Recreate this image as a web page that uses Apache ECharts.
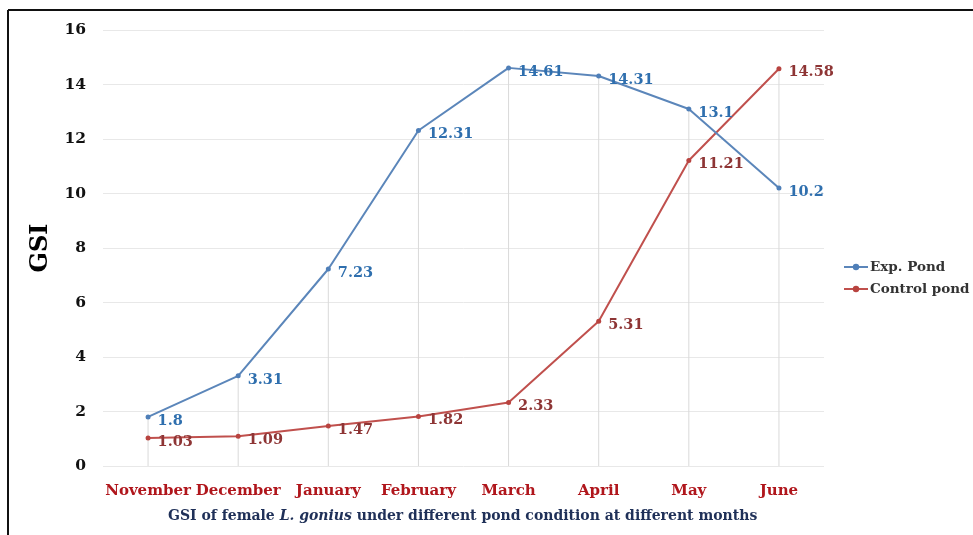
<!DOCTYPE html>
<html>
<head>
<meta charset="utf-8">
<script src="https://cdn.jsdelivr.net/npm/echarts@6/dist/echarts.min.js"></script>
<style>
html,body{margin:0;padding:0;background:#fff;}
#chart{width:973px;height:535px;}
</style>
</head>
<body>
<div id="chart"></div>
<script>
const months = ["November","December","January","February","March","April","May","June"];
const expPond = [1.8, 3.31, 7.23, 12.31, 14.61, 14.31, 13.1, 10.2];
const controlPond = [1.03, 1.09, 1.47, 1.82, 2.33, 5.31, 11.21, 14.58];
const yTicks = [0, 2, 4, 6, 8, 10, 12, 14, 16];

const dropLines = months.map((m, i) => Math.max(expPond[i], controlPond[i]));
const FONT = '"DejaVu Serif", "Liberation Serif", serif';

const chart = echarts.init(document.getElementById('chart'));
chart.setOption({
  animation: false,
  backgroundColor: '#fff',
  textStyle: { fontFamily: FONT },
  grid: { left: 103, right: 149, top: 30, bottom: 69, containLabel: false },
  graphic: [
    { type: 'line', shape: { x1: 8, y1: 10, x2: 973, y2: 10 }, style: { stroke: '#111', lineWidth: 2 } },
    { type: 'line', shape: { x1: 8, y1: 10, x2: 8, y2: 535 }, style: { stroke: '#111', lineWidth: 2 } },
    {
      type: 'text', left: 168, top: 509,
      style: {
        text: '{b|GSI of female }{i|L. gonius}{b| under different pond condition at different months}',
        rich: {
          b: { fontFamily: FONT, fontWeight: 'bold', fontSize: 14, fill: '#1f3058' },
          i: { fontFamily: FONT, fontWeight: 'bold', fontStyle: 'italic', fontSize: 14, fill: '#1f3058' }
        }
      }
    }
  ],
  legend: {
    orient: 'vertical',
    left: 838, top: 255,
    itemWidth: 24, itemHeight: 8, itemGap: 8,
    data: ['Exp. Pond', 'Control pond'],
    textStyle: { fontFamily: FONT, fontWeight: 'bold', fontSize: 13.5, color: '#333', padding: [0, 0, 0, -3] }
  },
  xAxis: {
    type: 'category',
    data: months,
    boundaryGap: true,
    axisLine: { show: false },
    axisTick: { show: false },
    splitLine: { show: false },
    axisLabel: {
      interval: 0, margin: 18,
      fontFamily: FONT, fontWeight: 'bold', fontSize: 15, color: '#b0161c'
    }
  },
  yAxis: {
    type: 'value',
    min: 0, max: 16, interval: 2,
    name: 'GSI',
    nameLocation: 'middle',
    nameGap: 50,
    nameRotate: 90,
    nameTextStyle: { fontFamily: FONT, fontWeight: 'bold', fontSize: 24, color: '#000' },
    axisLine: { show: false },
    axisTick: { show: false },
    axisLabel: {
      margin: 17,
      fontFamily: FONT, fontWeight: 'bold', fontSize: 15.5, color: '#111',
      formatter: v => yTicks.includes(v) ? String(v) : ''
    },
    splitLine: { lineStyle: { color: '#e8e8e8', width: 1 } }
  },
  series: [
    {
      name: 'drop', type: 'bar', data: dropLines, barWidth: 1, silent: true,
      itemStyle: { color: '#d9d9d9' }, z: 1, legendHoverLink: false
    },
    {
      name: 'Exp. Pond', type: 'line', data: expPond, z: 3,
      symbol: 'circle', symbolSize: 5,
      lineStyle: { color: '#5b86ba', width: 2 },
      itemStyle: { color: '#4f7fb8' },
      label: {
        show: true, position: 'right', distance: 7, offset: [0, 4],
        fontFamily: FONT, fontWeight: 'bold', fontSize: 14.5, color: '#2f6fae'
      }
    },
    {
      name: 'Control pond', type: 'line', data: controlPond, z: 2,
      symbol: 'circle', symbolSize: 5,
      lineStyle: { color: '#c0504d', width: 2 },
      itemStyle: { color: '#b8433f' },
      label: {
        show: true, position: 'right', distance: 7, offset: [0, 4],
        fontFamily: FONT, fontWeight: 'bold', fontSize: 14.5, color: '#8e3535'
      }
    }
  ]
});
</script>
</body>
</html>
